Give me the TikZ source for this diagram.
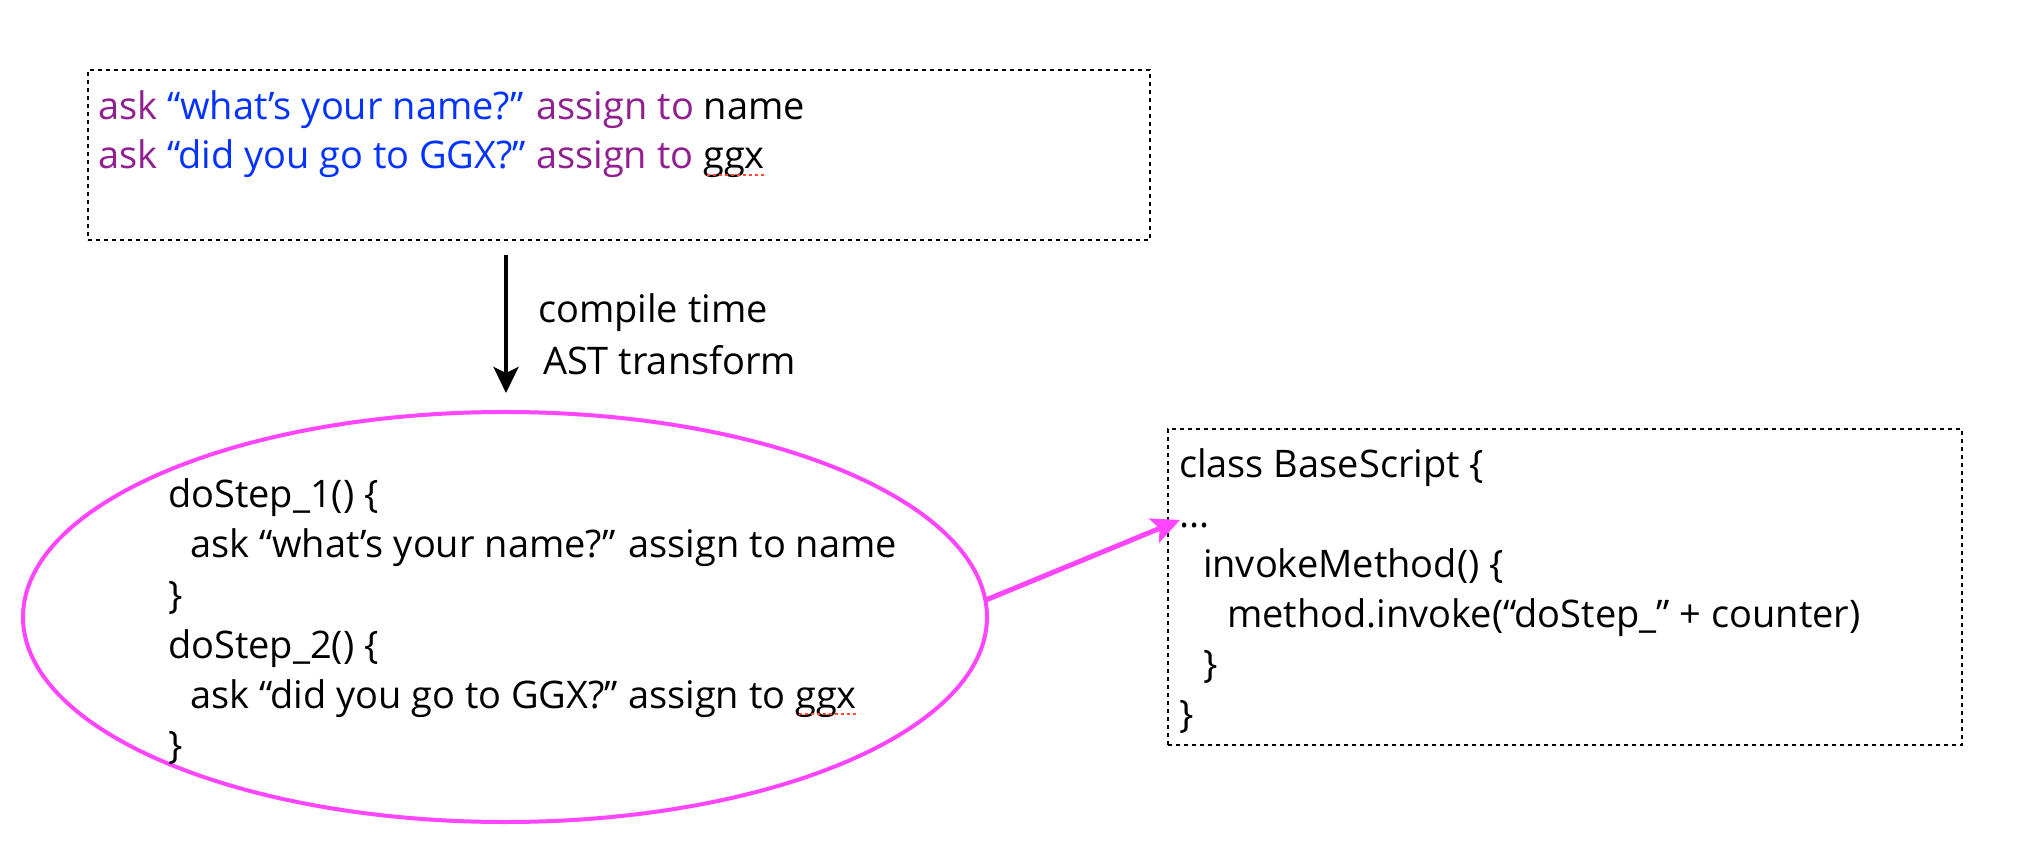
\documentclass[tikz,border=0pt]{standalone}
\usepackage{fontspec}
\setmainfont{Open Sans}
\usetikzlibrary{shapes.geometric,arrows.meta}
\definecolor{kw}{HTML}{921F91}
\definecolor{str}{HTML}{0433FF}
\definecolor{mag}{HTML}{FF45FF}
\definecolor{spellred}{HTML}{FF4A2E}
\begin{document}
\begin{tikzpicture}[x=0.5pt,y=-0.5pt,
  every node/.style={inner sep=0pt, outer sep=0pt},
  txt/.style={anchor=base west, font=\fontsize{19}{23}\selectfont},
  dashbox/.style={draw=black, line width=1pt, dash pattern=on 2pt off 2pt, anchor=north west},
  spell/.style={draw=spellred, line width=1.3pt, dash pattern=on 1.5pt off 1.5pt},
  blackarrow/.style={draw=black, line width=2pt, -{Stealth[length=13pt,width=12.5pt,inset=3pt]}},
  magarrow/.style={draw=mag, line width=2.5pt, -{Stealth[length=14pt,width=13pt,inset=3pt]}}
]
\useasboundingbox (0,0) rectangle (2032,854);
\fill[white] (0,0) rectangle (2032,854);

% top box
\node[dashbox, minimum width=531pt, minimum height=85pt] (topbox) at (88,70) {};
\node[txt] (t1) at (98,120) {\textcolor{kw}{ask} \textcolor{str}{“what’s your name?”} \textcolor{kw}{assign to} name};
\node[txt] (t2) at (98,169) {\textcolor{kw}{ask} \textcolor{str}{“did you go to GGX?”} \textcolor{kw}{assign to} ggx};
\draw[spell] ([xshift=-29pt,yshift=-3pt]t2.base east) -- ([yshift=-3pt]t2.base east);

% compile arrow
\coordinate (a1) at (506,255);
\coordinate (a2) at (506,393);
\draw[blackarrow] (a1) -- (a2);
\node[txt] (l1) at (538,323) {compile time};
\node[txt] (l2) at (543,375) {AST transform};

% ellipse
\node[ellipse, draw=mag, line width=2pt, minimum width=482pt, minimum height=205pt] (ell) at (505,617) {};
\node[txt] (e1) at (168,508) {doStep\_1() \{};
\node[txt] (e2) at (190,558) {ask “what’s your name?” assign to name};
\node[txt] (e3) at (168,608) {\}};
\node[txt] (e4) at (168,658) {doStep\_2() \{};
\node[txt] (e5) at (190,708) {ask “did you go to GGX?” assign to ggx};
\node[txt] (e6) at (168,758) {\}};
\draw[spell] ([xshift=-29pt,yshift=-3pt]e5.base east) -- ([yshift=-3pt]e5.base east);

% right box
\node[dashbox, minimum width=397pt, minimum height=158pt] (rbox) at (1168,429) {};
\node[txt] (r1) at (1179,478) {class BaseScript \{};
\node[txt] (r2) at (1179,528) {...};
\node[txt] (r3) at (1203,577) {invokeMethod() \{};
\node[txt] (r4) at (1227,627) {method.invoke(“doStep\_” + counter)};
\node[txt] (r5) at (1203,677) {\}};
\node[txt] (r6) at (1179,727) {\}};

% magenta arrow
\coordinate (tipc) at (1180,520);
\draw[magarrow] (ell.2) -- (tipc);
\end{tikzpicture}
\end{document}
